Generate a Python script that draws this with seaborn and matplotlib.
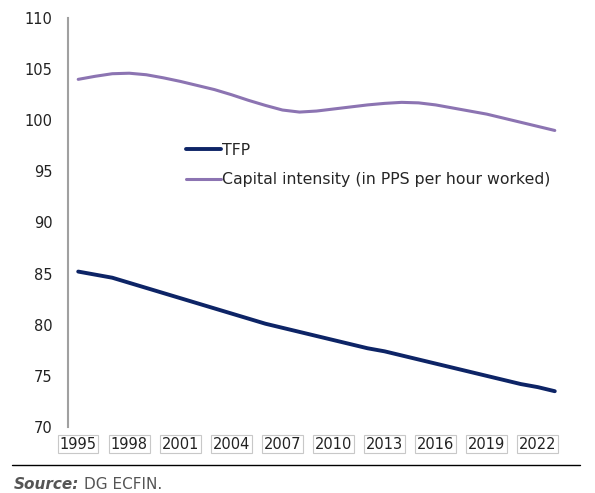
import pandas as pd
import numpy as np
import matplotlib
import matplotlib.pyplot as plt
import seaborn as sns
from matplotlib.lines import Line2D

matplotlib.use('Agg')

# 数据
years = list(range(1995, 2024))
tfp = [85.2, 84.9, 84.6, 84.1, 83.6, 83.1, 82.6, 82.1, 81.6, 81.1,
       80.6, 80.1, 79.7, 79.3, 78.9, 78.5, 78.1, 77.7, 77.4, 77.0,
       76.6, 76.2, 75.8, 75.4, 75.0, 74.6, 74.2, 73.9, 73.5]
capital = [104.0, 104.3, 104.55, 104.6, 104.45, 104.15, 103.8, 103.4, 103.0, 102.5,
           101.95, 101.45, 101.0, 100.8, 100.9, 101.1, 101.3, 101.5, 101.65, 101.75,
           101.7, 101.5, 101.2, 100.9, 100.6, 100.2, 99.8, 99.4, 99.0]
series_names = ['TFP', 'Capital intensity (in PPS per hour worked)']
year_ticks = list(range(1995, 2023, 3))
y_ticks = [70, 75, 80, 85, 90, 95, 100, 105, 110]

df = pd.DataFrame({
    'year': years * 2,
    'value': tfp + capital,
    'series': [series_names[0]] * len(years) + [series_names[1]] * len(years),
})

sns.set_style('white')
plt.rcParams['font.family'] = ['DejaVu Sans']

fig = plt.figure(figsize=(5.95, 4.93), dpi=100)
ax = fig.add_axes([68 / 595, 1 - 427 / 493, (565 - 68) / 595, (427 - 18) / 493])

palette = {series_names[0]: '#0d2466', series_names[1]: '#8c74b2'}
sns.lineplot(data=df, x='year', y='value', hue='series', palette=palette,
             ax=ax, legend=False)
ax.lines[0].set_linewidth(2.8)
ax.lines[1].set_linewidth(2.2)
for ln in ax.lines:
    ln.set_solid_capstyle('round')
    ln.set_solid_joinstyle('round')

ax.set_xlim(1994.4, 2023.6)
ax.set_ylim(70, 110)
ax.set_yticks(y_ticks)
ax.set_xticks(year_ticks)
ax.set_xticklabels([str(y) for y in year_ticks], fontsize=10.5, color='#222222')
ax.set_yticklabels([str(v) for v in y_ticks], fontsize=10.5, color='#222222')
for lab in ax.get_xticklabels():
    lab.set_bbox(dict(boxstyle='square,pad=0.12', fc='white', ec='#c8c8c8', lw=0.8))
ax.tick_params(axis='both', length=0)
ax.tick_params(axis='y', pad=11)
ax.tick_params(axis='x', pad=7)
ax.set_xlabel('')
ax.set_ylabel('')

sns.despine(ax=ax, bottom=True)
ax.spines['left'].set_color('#a0a0a0')
ax.spines['left'].set_linewidth(1.5)

handles = [Line2D([], [], color=palette[series_names[0]], lw=2.8),
           Line2D([], [], color=palette[series_names[1]], lw=2.2)]
ax.legend(handles, series_names, loc='upper left', bbox_to_anchor=(0.225, 0.71),
          frameon=False, fontsize=11.3, handlelength=2.2, handletextpad=0.1,
          labelspacing=0.9, borderaxespad=0)

# 底部分隔线与来源
fig.add_artist(Line2D([12 / 595, 580 / 595], [1 - 465 / 493, 1 - 465 / 493],
                      color='black', lw=1.0))
t = fig.text(14 / 595, 1 - 489 / 493, 'Source:', fontsize=11, color='#555555',
             fontweight='bold', fontstyle='italic')
fig.canvas.draw()
bb = t.get_window_extent()
fig.text(bb.x1 / fig.bbox.width + 5 / 595, 1 - 489 / 493, 'DG ECFIN.', fontsize=11,
         color='#555555')

fig.savefig('out.png', dpi=100)
